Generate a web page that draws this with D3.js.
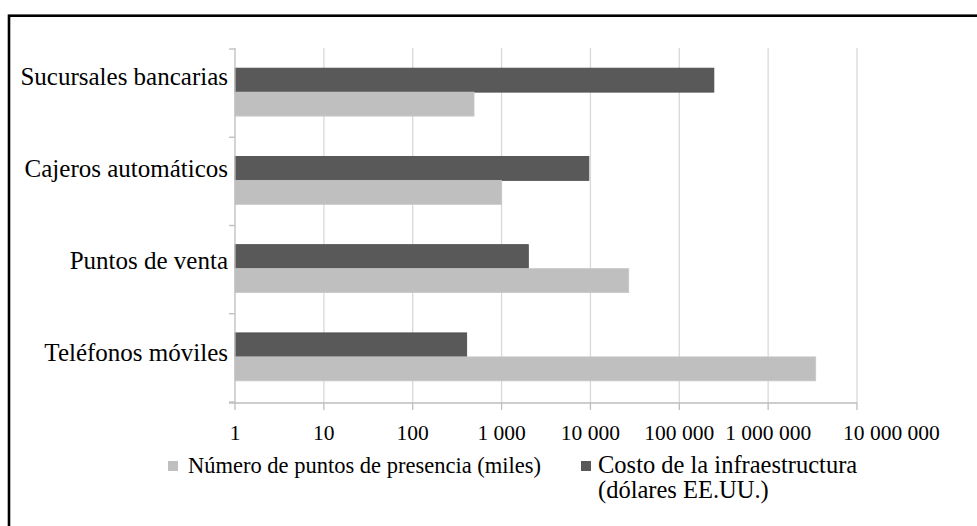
<!DOCTYPE html>
<html>
<head>
<meta charset="utf-8">
<script src="https://cdn.jsdelivr.net/npm/d3@7/dist/d3.min.js"></script>
<style>
  html, body { margin: 0; padding: 0; background: #fff; }
  svg { display: block; }
</style>
</head>
<body>
<svg id="chart" width="977" height="526"></svg>
<script>
// ---- data ----
const categories = ["Sucursales bancarias", "Cajeros automáticos", "Puntos de venta", "Teléfonos móviles"];
const seriesNames = ["Número de puntos de presencia (miles)", "Costo de la infraestructura (dólares EE.UU.)"];
const puntosPresencia = [490, 1000, 27000, 3430000];      // light bars
const costoInfraestructura = [245000, 9600, 2000, 405];   // dark bars
const tickValues = [1, 10, 100, 1000, 10000, 100000, 1000000, 10000000];
const tickLabels = ["1", "10", "100", "1 000", "10 000", "100 000", "1 000 000", "10 000 000"];

const LIGHT = "#bfbfbf", DARK = "#595959";
const FONT = '"Liberation Serif", monospace';

const svg = d3.select("#chart");

// frame
svg.append("rect")
  .attr("x", 9).attr("y", 15.7).attr("width", 1000).attr("height", 600)
  .attr("fill", "none").attr("stroke", "#000").attr("stroke-width", 2.6);

const x = d3.scaleLog().domain([1, 1e7]).range([235, 857]);
const y = d3.scaleBand().domain(categories).range([49, 402]).padding(0);
const sub = d3.scaleBand().domain(["costo", "puntos"])
  .range([0, y.bandwidth()]).paddingInner(0).paddingOuter(0.84);

// grid lines
svg.append("g").selectAll("line").data(tickValues.slice(1)).join("line")
  .attr("x1", d => x(d)).attr("x2", d => x(d))
  .attr("y1", 48).attr("y2", 403)
  .attr("stroke", "#d9d9d9").attr("stroke-width", 1.3);

// bars
const rows = categories.map((c, i) => ({c, costo: costoInfraestructura[i], puntos: puntosPresencia[i]}));
const g = svg.append("g");
g.selectAll("rect.costo").data(rows).join("rect")
  .attr("class", "costo")
  .attr("x", x(1)).attr("y", d => y(d.c) + sub("costo") - 1)
  .attr("width", d => x(d.costo) - x(1)).attr("height", sub.bandwidth())
  .attr("fill", DARK).attr("stroke", "#4a4a4a").attr("stroke-width", 0.8);
g.selectAll("rect.puntos").data(rows).join("rect")
  .attr("class", "puntos")
  .attr("x", x(1)).attr("y", d => y(d.c) + sub("puntos") - 1)
  .attr("width", d => x(d.puntos) - x(1)).attr("height", sub.bandwidth())
  .attr("fill", LIGHT).attr("stroke", "#c8c8c8").attr("stroke-width", 0.8);

// x axis
const xAxis = svg.append("g").attr("transform", "translate(0,403)");
xAxis.append("line").attr("x1", 229).attr("x2", x(1e7))
  .attr("stroke", "#bdbdbd").attr("stroke-width", 1.3);
xAxis.selectAll("line.t").data(tickValues).join("line").attr("class", "t")
  .attr("x1", d => x(d)).attr("x2", d => x(d)).attr("y1", 0).attr("y2", 7)
  .attr("stroke", "#bdbdbd").attr("stroke-width", 1.3);
xAxis.selectAll("text").data(tickValues).join("text")
  .attr("x", (d, i) => i === tickValues.length - 1 ? x(d) - 14 : x(d))
  .attr("y", 37)
  .attr("text-anchor", (d, i) => i === tickValues.length - 1 ? "start" : "middle")
  .style("font-family", FONT).style("font-size", "21.5px").attr("fill", "#000")
  .text((d, i) => tickLabels[i]);

// y axis
const yAxis = svg.append("g");
yAxis.append("line").attr("x1", 235).attr("x2", 235).attr("y1", 48).attr("y2", 403)
  .attr("stroke", "#bdbdbd").attr("stroke-width", 1.3);
const bounds = categories.map(c => y(c)).concat([y.range()[1]]);
yAxis.selectAll("line.t").data(bounds).join("line").attr("class", "t")
  .attr("x1", 229).attr("x2", 235).attr("y1", d => d).attr("y2", d => d)
  .attr("stroke", "#bdbdbd").attr("stroke-width", 1.3);
const labelY = d3.scalePoint().domain(categories).range([85, 361]);
yAxis.selectAll("text").data(categories).join("text")
  .attr("x", 228).attr("y", d => labelY(d))
  .attr("text-anchor", "end").attr("fill", "#000")
  .style("font-family", FONT).style("font-size", "25px")
  .text(d => d);

// legend
const leg = svg.append("g");
leg.append("rect").attr("x", 168).attr("y", 461).attr("width", 10).attr("height", 10).attr("fill", LIGHT);
leg.append("text").attr("x", 188).attr("y", 473).attr("fill", "#000")
  .style("font-family", FONT).style("font-size", "22.5px").text(seriesNames[0]);
leg.append("rect").attr("x", 581).attr("y", 461).attr("width", 10).attr("height", 10).attr("fill", DARK);
const t2 = leg.append("text").attr("x", 598).attr("y", 473).attr("fill", "#000")
  .style("font-family", FONT).style("font-size", "24.5px");
t2.append("tspan").attr("x", 598).text("Costo de la infraestructura");
t2.append("tspan").attr("x", 598).attr("dy", 25).text("(dólares EE.UU.)");
</script>
</body>
</html>
